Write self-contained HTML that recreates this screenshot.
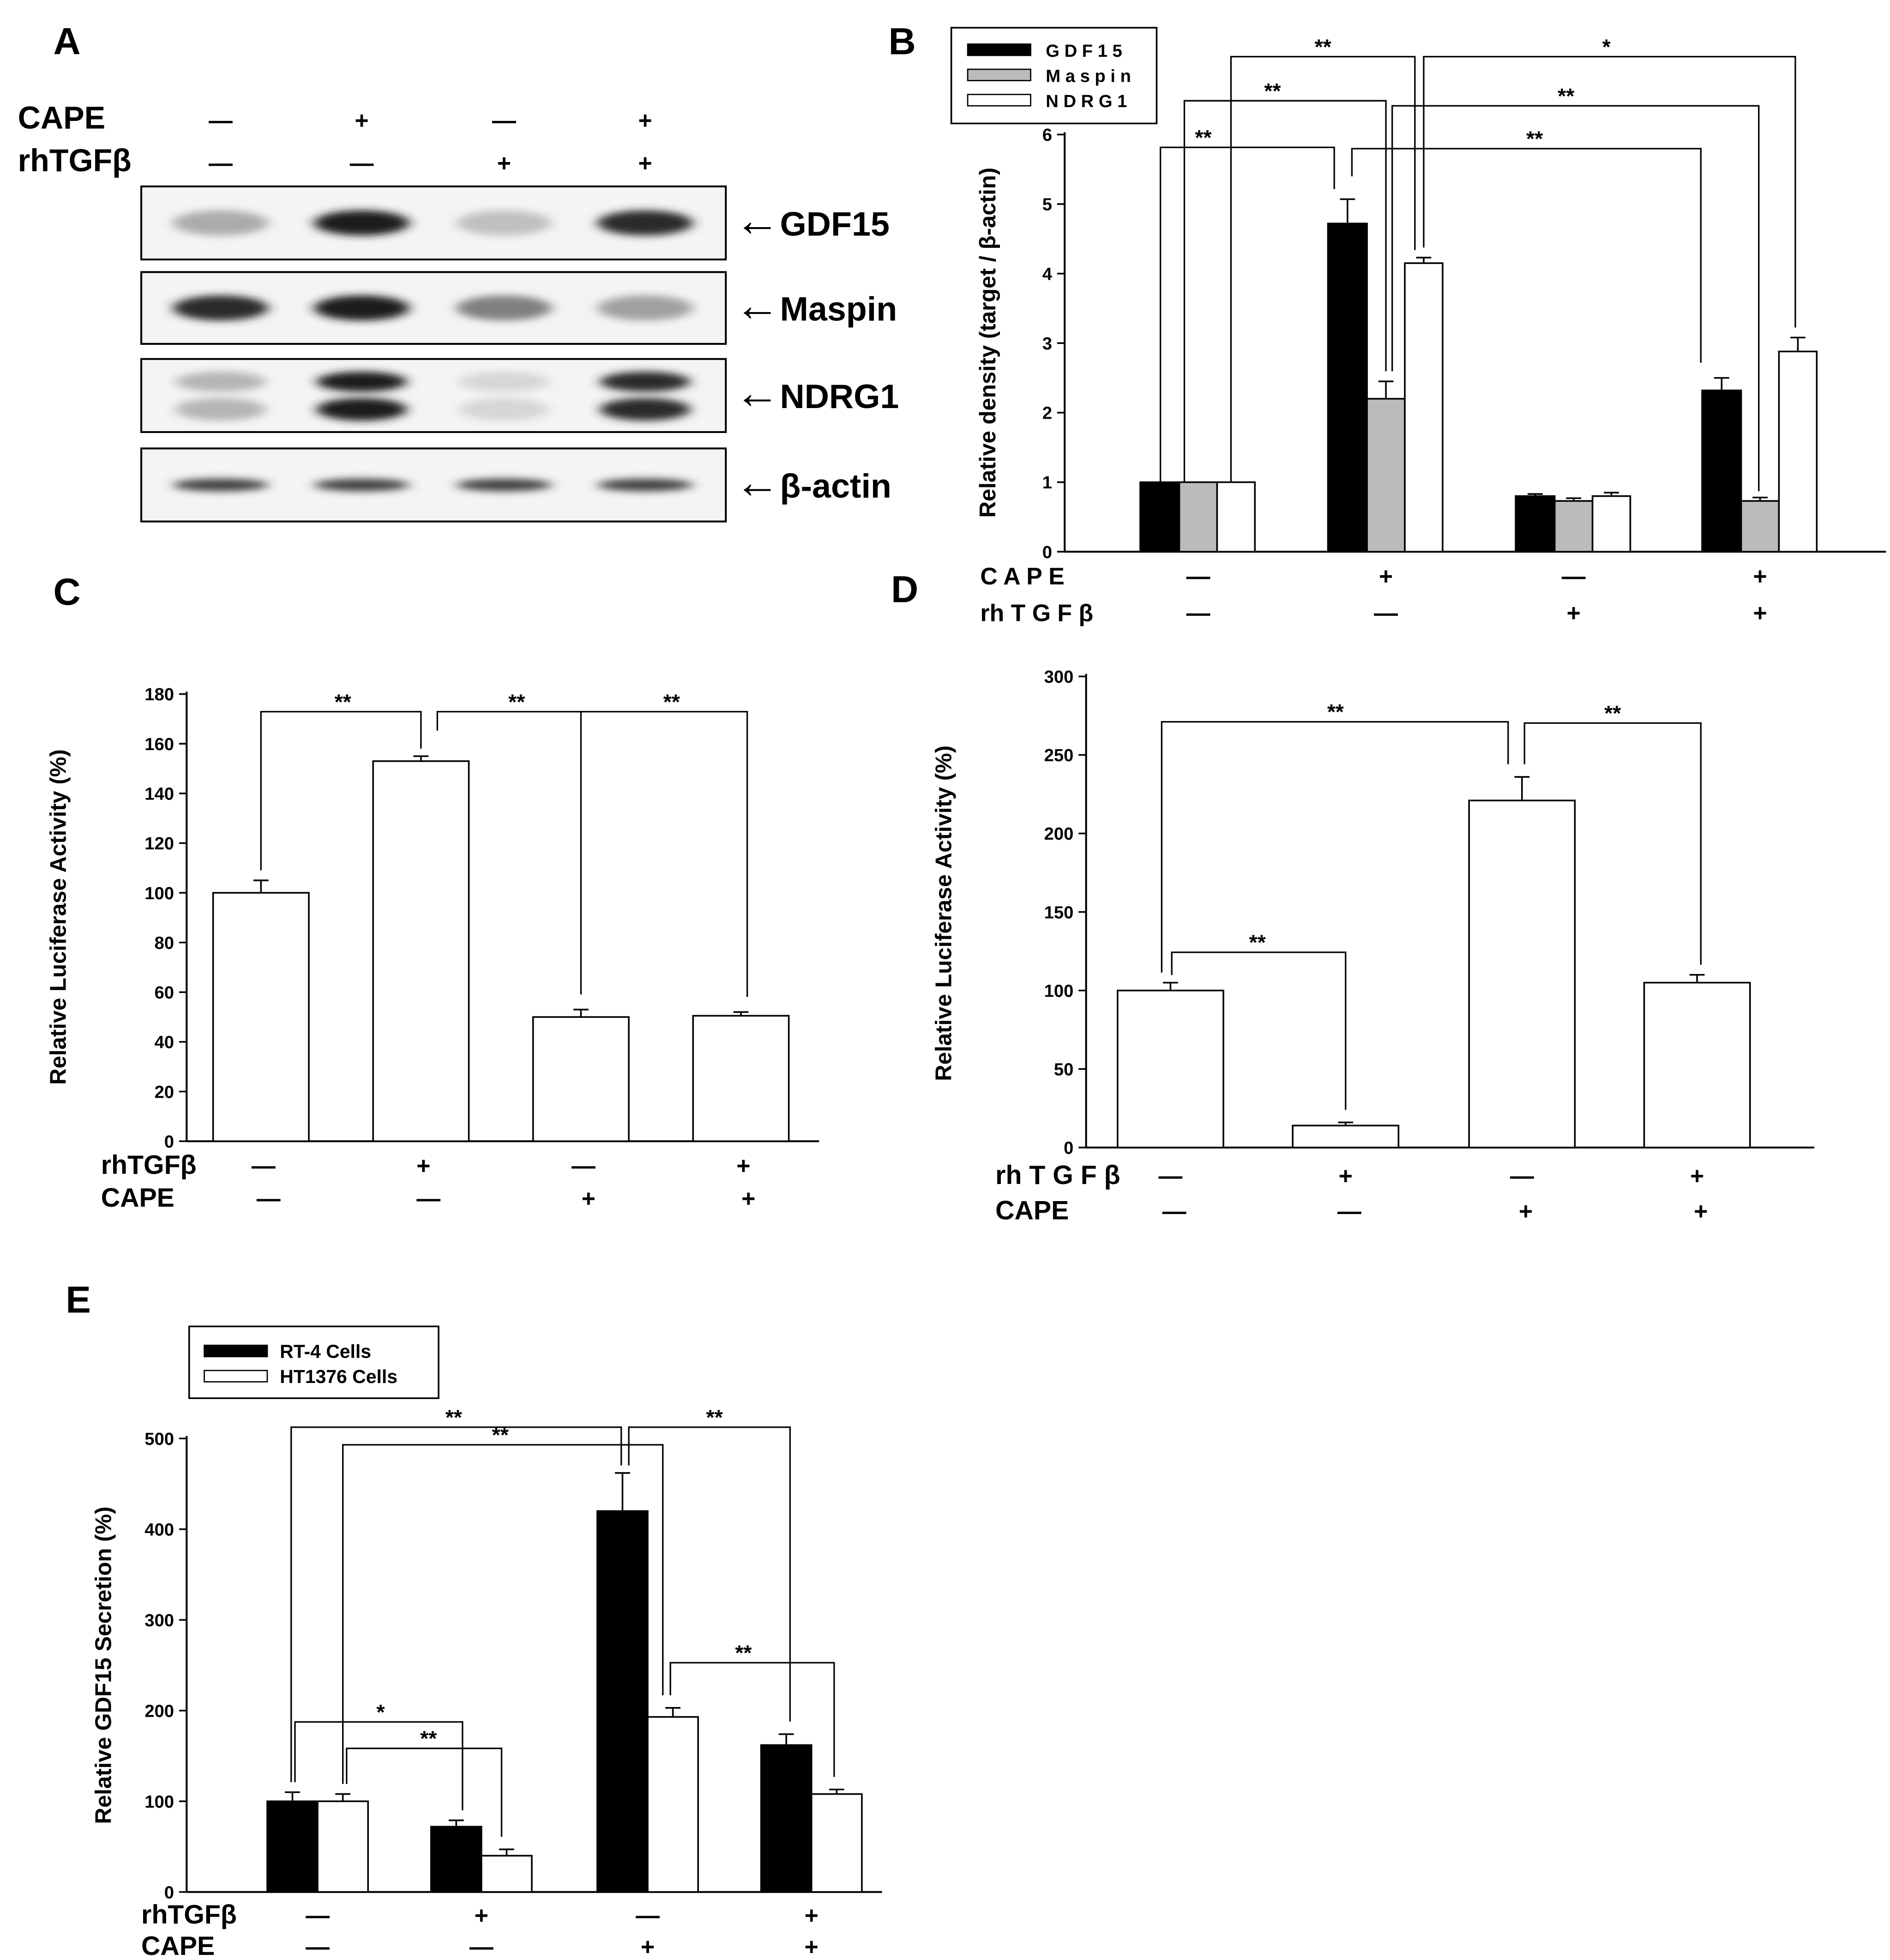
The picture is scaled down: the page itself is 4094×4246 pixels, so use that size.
<!DOCTYPE html>
<html><head><meta charset="utf-8"><style>
html,body{margin:0;padding:0;background:#fff}
svg{display:block;font-family:"Liberation Sans",Arial,sans-serif}
</style></head><body>
<svg id="fig" width="4094" height="4246" viewBox="0 0 1500 1556" xmlns="http://www.w3.org/2000/svg">
<defs><filter id="blur" x="-50%" y="-100%" width="200%" height="300%"><feGaussianBlur stdDeviation="5 3"/></filter></defs>
<g id="root"></g>
</svg>
<script>
// ---- data ----
const blotLanes = ["1","2","3","4"];
const gdfBlot = [0.3, 0.95, 0.2, 0.9];
const maspinBlot = [0.9, 0.95, 0.5, 0.35];
const ndrgBlot = [0.25, 0.95, 0.1, 0.9];
const actinBlot = [0.8, 0.8, 0.8, 0.8];

const bSeries = ["GDF15","Maspin","NDRG1"];
const bGDF = [1, 4.72, 0.8, 2.32];
const bMaspin = [1, 2.2, 0.73, 0.73];
const bNDRG = [1, 4.15, 0.8, 2.88];
const bGDFerr = [0, 0.35, 0.03, 0.18];
const bMaspinErr = [0, 0.25, 0.04, 0.05];
const bNDRGerr = [0, 0.08, 0.05, 0.2];
const bTicks = [0,1,2,3,4,5,6];

const cValues = [100, 153, 50, 50.5];
const cErr = [5, 2, 3, 1.5];
const cTicks = [0,20,40,60,80,100,120,140,160,180];

const dValues = [100, 14, 221, 105];
const dErr = [5, 2, 15, 5];
const dTicks = [0,50,100,150,200,250,300];

const eRT4 = [100, 72, 420, 162];
const eHT = [100, 40, 193, 108];
const eRT4err = [10, 7, 42, 12];
const eHTerr = [8, 7, 10, 5];
const eTicks = [0,100,200,300,400,500];

const NS="http://www.w3.org/2000/svg";
const root=document.getElementById('root');
function mk(tag,attrs,parent){const e=document.createElementNS(NS,tag);for(const k in attrs)e.setAttribute(k,attrs[k]);(parent||root).appendChild(e);return e;}
function txt(x,y,s,size,anchor,weight){const t=mk('text',{x:x,y:y,'font-size':size,'text-anchor':anchor||'middle','font-weight':weight||'bold',fill:'#000'});t.textContent=s;return t;}
function line(x1,y1,x2,y2,w){return mk('path',{d:`M${x1} ${y1}L${x2} ${y2}`,stroke:'#000','stroke-width':w||1.3,fill:'none'});}
function bracket(x1,d1,x2,d2,y,label,lx){const p=mk('path',{d:`M${x1} ${d1}V${y}H${x2}V${d2}`,stroke:'#000','stroke-width':1.2,fill:'none'});
 const t=txt(lx!==undefined?lx:(x1+x2)/2,y-2,label,17,'middle','bold');}
function panelLetter(x,y,s){const t=txt(x,y,s,30,'middle','bold');}
function signs(xs,y,arr,name){arr.forEach((s,i)=>{const t=txt(xs[i],y,s==='+'?'+':'—',19,'middle','bold');});}
function rowLabel(x,y,s,size){const t=txt(x,y,s,size||21,'start','bold');}
function yAxis(x,y0,y1,ticks,scale,fmt,name){const a=line(x,y0,x,y1,1.5);
 ticks.forEach(v=>{const yy=scale(v);const tk=line(x-6,yy,x,yy,1.3);
 const t=txt(x-10,yy+5,String(v),14,'end','bold');});}
function bar(x,w,v,e,scale,fill,name){const y=scale(v),y0=scale(0);
 if(e>0){const er=mk('path',{d:`M${x+w/2} ${y}V${scale(v+e)}M${x+w/2-6} ${scale(v+e)}H${x+w/2+6}`,stroke:'#000','stroke-width':1.3,fill:'none'});}
 const r=mk('rect',{x:x,y:y,width:w,height:y0-y,fill:fill,stroke:'#000','stroke-width':1.3});return r;}
function ylabel(x,y,s){const t=mk('text',{x:0,y:0,'font-size':18,'text-anchor':'middle','font-weight':'bold',transform:`translate(${x},${y}) rotate(-90)`});t.textContent=s;}

// ---- Panel A ----
panelLetter(53,43,'A');
rowLabel(14,102,'CAPE',25);rowLabel(14,136,'rhTGFβ',25);
const laneX=[175,287,400,512];
signs(laneX,102,['-','+','-','+'],'cape-sign');signs(laneX,136,['-','-','+','+'],'tgf-sign');
function blot(y0,h,vals,label,twoBands,thin){
 const g=mk('g',{});
 mk('rect',{x:112,y:y0,width:464,height:h,fill:'#f4f4f4',stroke:'#000','stroke-width':1.5},g);
 vals.forEach((v,i)=>{const cx=laneX[i];const c=Math.round(235-215*v);const col=`rgb(${c},${c},${c})`;
  const cy=y0+h/2;
  if(twoBands){mk('ellipse',{cx:cx,cy:cy-11,rx:36,ry:8,fill:col,filter:'url(#blur)'},g);mk('ellipse',{cx:cx,cy:cy+11,rx:36,ry:9,fill:col,filter:'url(#blur)'},g);}
  else mk('ellipse',{cx:cx,cy:cy,rx:38,ry:thin?5:10,fill:col,filter:'url(#blur)'},g);});
 const t=mk('text',{x:583,y:y0+h/2+10,'font-size':27,'text-anchor':'start','font-weight':'bold'});
 const a=mk('tspan',{'font-size':36,'font-weight':'normal'},t);a.textContent='←';
 const b=mk('tspan',{},t);b.textContent=label;
 }
blot(148,58,gdfBlot,'GDF15');blot(216,57,maspinBlot,'Maspin');blot(285,58,ndrgBlot,'NDRG1',true);blot(356,58,actinBlot,'β-actin',false,true);

// ---- Panel B ----
panelLetter(716,43,'B');
const bY=v=>438-v*55.2;
yAxis(845,438,105,bTicks,bY,null,'b');
const bx=line(845,438,1497,438,1.5);
const bStart=[905,1054,1203,1351];
bGDF.forEach((v,i)=>bar(bStart[i],31,v,bGDFerr[i],bY,'#000','bar-gdf15'));
bMaspin.forEach((v,i)=>bar(bStart[i]+31,30,v,bMaspinErr[i],bY,'#bbb','bar-maspin'));
bNDRG.forEach((v,i)=>bar(bStart[i]+61,30,v,bNDRGerr[i],bY,'#fff','bar-ndrg1'));
ylabel(790,272,'Relative density (target / β-actin)');
const bc=bStart.map(s=>s+46);
rowLabel(778,464,'C A P E',19);rowLabel(778,493,'rh T G F β',19);
signs(bc,464,['-','+','-','+'],'cape-sign');signs(bc,493,['-','-','+','+'],'tgf-sign');
const lg=mk('rect',{x:755,y:22,width:163,height:76,fill:'#fff',stroke:'#000','stroke-width':1.3});
[['GDF15','#000'],['Maspin','#bbb'],['NDRG1','#fff']].forEach((e,i)=>{const r=mk('rect',{x:768,y:35+i*20,width:50,height:9,fill:e[1],stroke:'#000','stroke-width':1});
 const t=txt(830,45+i*20,e[0].split('').join(' '),14,'start','bold');});
bracket(921,383,1059,bY(bGDF[1]+bGDFerr[1])-8,117,'**',955);
bracket(940,383,1100,bY(bMaspin[1]+bMaspinErr[1])-8,80,'**',1010);
bracket(977,383,1123,bY(bNDRG[1]+bNDRGerr[1])-6,45,'**',1050);
bracket(1073,140,1350,bY(bGDF[3]+bGDFerr[3])-12,118,'**',1218);
bracket(1105,bY(bMaspin[1]+bMaspinErr[1])-8,1396,bY(bMaspin[3]+bMaspinErr[3])-5,84,'**',1243);
bracket(1130,bY(bNDRG[1]+bNDRGerr[1])-8,1425,bY(bNDRG[3]+bNDRGerr[3])-8,45,'*',1275);

// ---- Panel C ----
panelLetter(53,480,'C');
const cY=v=>906-v*(355/180);
yAxis(148,906,549,cTicks,cY,null,'c');
const cx=line(148,906,650,906,1.5);
const cCenters=[207,334,461,588];
cValues.forEach((v,i)=>bar(cCenters[i]-38,76,v,cErr[i],cY,'#fff','bar-c'));
ylabel(52,728,'Relative Luciferase Activity (%)');
rowLabel(80,932,'rhTGFβ',21);rowLabel(80,958,'CAPE',21);
signs(cCenters.map(c=>c+2),932,['-','+','-','+'],'tgf-sign');signs(cCenters.map(c=>c+6),958,['-','-','+','+'],'cape-sign');
bracket(207,cY(cValues[0]+cErr[0])-8,334,cY(cValues[1]+cErr[1])-6,565,'**',272);
bracket(347,580,461,cY(cValues[2]+cErr[2])-12,565,'**',410);
bracket(461,566,593,cY(cValues[3]+cErr[3])-12,565,'**',533);

// ---- Panel D ----
panelLetter(718,478,'D');
const dY=v=>911-v*(374/300);
yAxis(862,911,535,dTicks,dY,null,'d');
const dx=line(862,911,1440,911,1.5);
const dCenters=[929,1068,1208,1347];
dValues.forEach((v,i)=>bar(dCenters[i]-42,84,v,dErr[i],dY,'#fff','bar-d'));
ylabel(755,725,'Relative Luciferase Activity (%)');
rowLabel(790,940,'rh T G F β',21);rowLabel(790,968,'CAPE',21);
signs(dCenters,940,['-','+','-','+'],'tgf-sign');signs(dCenters.map(c=>c+3),968,['-','-','+','+'],'cape-sign');
bracket(922,dY(dValues[0]+dErr[0])-8,1197,dY(dValues[2]+dErr[2])-10,573,'**',1060);
bracket(1210,dY(dValues[2]+dErr[2])-10,1350,dY(dValues[3]+dErr[3])-8,574,'**',1280);
bracket(930,dY(dValues[0]+dErr[0])-6,1068,dY(dValues[1]+dErr[1])-10,756,'**',998);

// ---- Panel E ----
panelLetter(62,1042,'E');
const eY=v=>1502-v*0.72;
yAxis(148,1502,1140,eTicks,eY,null,'e');
const ex=line(148,1502,700,1502,1.5);
const eCenters=[252,382,514,644];
eRT4.forEach((v,i)=>bar(eCenters[i]-40,40,v,eRT4err[i],eY,'#000','bar-rt4'));
eHT.forEach((v,i)=>bar(eCenters[i],40,v,eHTerr[i],eY,'#fff','bar-ht1376'));
ylabel(88,1322,'Relative GDF15 Secretion (%)');
const lgE=mk('rect',{x:150,y:1053,width:198,height:57,fill:'#fff',stroke:'#000','stroke-width':1.3});
[['RT-4 Cells','#000'],['HT1376 Cells','#fff']].forEach((e,i)=>{const r=mk('rect',{x:162,y:1068+i*20,width:50,height:9,fill:e[1],stroke:'#000','stroke-width':1});
 const t=txt(222,1078+i*20,e[0],15,'start','bold');});
rowLabel(112,1527,'rhTGFβ',21);rowLabel(112,1552,'CAPE',21);
signs(eCenters,1527,['-','+','-','+'],'tgf-sign');signs(eCenters,1552,['-','-','+','+'],'cape-sign');
bracket(231,eY(eRT4[0]+eRT4err[0])-8,493,eY(eRT4[2]+eRT4err[2])-6,1133,'**',360);
bracket(272,eY(eHT[0]+eHTerr[0])-8,526,eY(eHT[2]+eHTerr[2])-10,1147,'**',397);
bracket(499,eY(eRT4[2]+eRT4err[2])-6,627,eY(eRT4[3]+eRT4err[3])-10,1133,'**',567);
bracket(532,eY(eHT[2]+eHTerr[2])-10,662,eY(eHT[3]+eHTerr[3])-10,1320,'**',590);
bracket(234,eY(eRT4[0]+eRT4err[0])-8,367,eY(eRT4[1]+eRT4err[1])-8,1367,'*',302);
bracket(275,eY(eHT[0]+eHTerr[0])-8,398,eY(eHT[1]+eHTerr[1])-10,1388,'**',340);
</script>
</body></html>
